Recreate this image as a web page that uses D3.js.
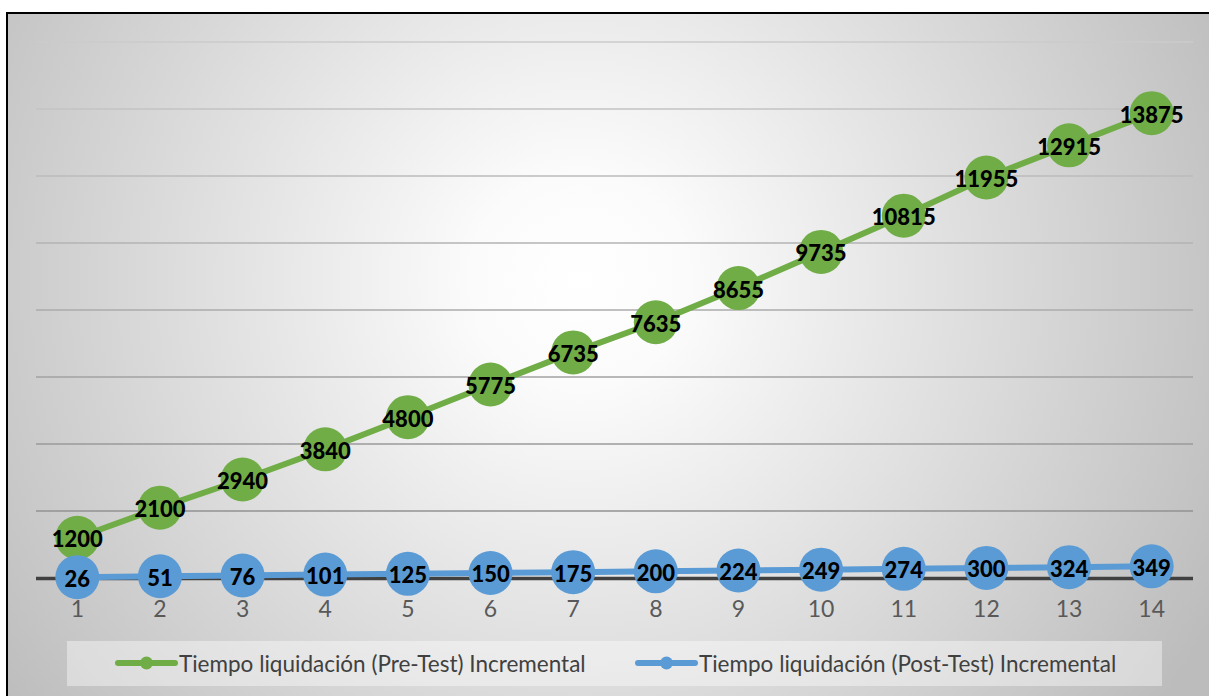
<!DOCTYPE html>
<html>
<head>
<meta charset="utf-8">
<script src="https://cdn.jsdelivr.net/npm/d3@7"></script>
<style>
  body { margin: 0; background: #fff; }
  svg { display: block; }
</style>
</head>
<body>
<svg id="chart" width="1209" height="696"></svg>
<script>
var categories = ["1","2","3","4","5","6","7","8","9","10","11","12","13","14"];
var preTest = [1200,2100,2940,3840,4800,5775,6735,7635,8655,9735,10815,11955,12915,13875];
var postTest = [26,51,76,101,125,150,175,200,224,249,274,300,324,349];
var yTicks = [0,2000,4000,6000,8000,10000,12000,14000,16000];
var seriesNames = ["Tiempo liquidación (Pre-Test) Incremental", "Tiempo liquidación (Post-Test) Incremental"];
var seriesColors = ["#70ad47", "#5b9bd5"];

var svg = d3.select("#chart");
var defs = svg.append("defs");
var grad = defs.append("radialGradient")
	.attr("id", "bg")
	.attr("gradientUnits", "userSpaceOnUse")
	.attr("cx", 580).attr("cy", 280).attr("r", 720);
grad.append("stop").attr("offset", "0%").attr("stop-color", "#ffffff");
grad.append("stop").attr("offset", "15%").attr("stop-color", "#fbfbfb");
grad.append("stop").attr("offset", "100%").attr("stop-color", "#bcbcbc");

// chart area + frame (right and bottom edges run off the picture)
svg.append("rect")
	.attr("x", 7).attr("y", 13).attr("width", 1300).attr("height", 760)
	.attr("fill", "url(#bg)")
	.attr("stroke", "#000").attr("stroke-width", 2);

var x = d3.scaleBand().domain(categories).range([36, 1193]);
var y = d3.scaleLinear().domain([0, 16000]).range([578, 42]);
var gridColor = d3.scaleLinear().domain([0, 16000]).range(["#8a8a8a", "#cbcbcb"]);

// gridlines
svg.append("g")
	.selectAll("line")
	.data(yTicks.slice(1))
	.enter().append("line")
	.attr("x1", 36).attr("x2", 1193)
	.attr("y1", function(d){ return y(d); })
	.attr("y2", function(d){ return y(d); })
	.attr("stroke", function(d){ return gridColor(d); })
	.attr("stroke-width", 1.5);

// x axis
var xAxis = svg.append("g")
	.attr("transform", "translate(0," + y(0) + ")")
	.call(d3.axisBottom(x).tickSize(0).tickPadding(23));
xAxis.select(".domain").attr("stroke", "#404040").attr("stroke-width", 3.5)
	.attr("d", "M36,0.5H1193");
xAxis.selectAll("text")
	.attr("fill", "#595959")
	.style("font-family", "Lato, 'Open Sans', sans-serif")
	.style("font-size", "23px");

var line = d3.line()
	.x(function(d, i){ return x(categories[i]) + x.bandwidth() / 2; })
	.y(function(d){ return y(d); });

[preTest, postTest].forEach(function(series, s){
	var g = svg.append("g");
	g.append("path")
		.datum(series)
		.attr("fill", "none")
		.attr("stroke", seriesColors[s])
		.attr("stroke-width", 6)
		.attr("d", line);
	g.selectAll("circle")
		.data(series)
		.enter().append("circle")
		.attr("cx", function(d, i){ return x(categories[i]) + x.bandwidth() / 2; })
		.attr("cy", function(d){ return y(d); })
		.attr("r", 22)
		.attr("fill", seriesColors[s]);
	g.selectAll("text")
		.data(series)
		.enter().append("text")
		.attr("x", function(d, i){ return x(categories[i]) + x.bandwidth() / 2; })
		.attr("y", function(d){ return y(d) + 1; })
		.attr("text-anchor", "middle")
		.attr("dominant-baseline", "central")
		.style("font-family", "Lato, 'Open Sans', sans-serif")
		.style("font-weight", "900")
		.style("font-size", "22px")
		.attr("fill", "#000")
		.text(function(d){ return d; });
});

// legend
svg.append("rect")
	.attr("x", 67).attr("y", 641).attr("width", 1095).attr("height", 45)
	.attr("fill", "#ffffff").attr("fill-opacity", 0.4);
var legendX = [118, 638];
seriesNames.forEach(function(name, s){
	var lg = svg.append("g").attr("transform", "translate(" + legendX[s] + ",663)");
	lg.append("line").attr("x1", 0).attr("x2", 57)
		.attr("stroke", seriesColors[s]).attr("stroke-width", 6)
		.attr("stroke-linecap", "round");
	lg.append("circle").attr("cx", 28.5).attr("r", 6.5).attr("fill", seriesColors[s]);
	lg.append("text").attr("x", 61).attr("y", 0)
		.attr("dominant-baseline", "central")
		.attr("fill", "#404040")
		.style("font-family", "Lato, 'Open Sans', sans-serif")
		.style("font-size", "22.5px")
		.text(name);
});
</script>
</body>
</html>
